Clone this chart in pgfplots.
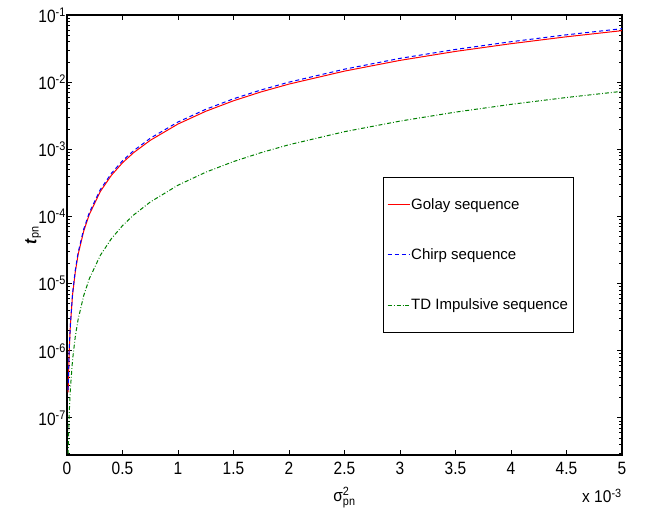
\documentclass[border=0pt]{standalone}
\usepackage{pgfplots}
\pgfplotsset{compat=1.18}
\usepackage{amsmath}
\usepackage{fontspec}
\setmainfont{Liberation Sans}

\definecolor{mred}{RGB}{255,0,0}
\definecolor{mblue}{RGB}{0,0,255}
\definecolor{mgreen}{RGB}{0,128,0}

\begin{document}
\fontsize{15}{18}\selectfont
\begin{tikzpicture}
\begin{axis}[
  name=ax,
  width=555pt, height=440pt, scale only axis,
  xmin=0, xmax=5,
  ymode=log, ymin=2.8e-8, ymax=1e-1,
  xtick={0,0.5,...,5},
  xticklabels={0,0.5,1,1.5,2,2.5,3,3.5,4,4.5,5},
  ytick={1e-7,1e-6,1e-5,1e-4,1e-3,1e-2,1e-1},
  yticklabels={10$^{\text{-7}}$,10$^{\text{-6}}$,10$^{\text{-5}}$,10$^{\text{-4}}$,10$^{\text{-3}}$,10$^{\text{-2}}$,10$^{\text{-1}}$},
  minor ytick={3e-8,4e-8,5e-8,6e-8,7e-8,8e-8,9e-8,
    2e-7,3e-7,4e-7,5e-7,6e-7,7e-7,8e-7,9e-7,
    2e-6,3e-6,4e-6,5e-6,6e-6,7e-6,8e-6,9e-6,
    2e-5,3e-5,4e-5,5e-5,6e-5,7e-5,8e-5,9e-5,
    2e-4,3e-4,4e-4,5e-4,6e-4,7e-4,8e-4,9e-4,
    2e-3,3e-3,4e-3,5e-3,6e-3,7e-3,8e-3,9e-3,
    2e-2,3e-2,4e-2,5e-2,6e-2,7e-2,8e-2,9e-2},
  tick align=inside,
  major tick length=5pt, minor tick length=3pt,
  axis line style={line width=1.2pt},
  every tick/.style={black, line width=0.8pt},
  tick label style={font=\fontsize{15.5}{18}\selectfont, yscale=1.15},
  yticklabel style={inner xsep=1pt},
  xticklabel style={yshift=-1pt},
  label style={font=\fontsize{15.5}{18}\selectfont, yscale=1.1},
  xlabel={σ$^{\text{2}}_{\text{pn}}$},
  xlabel style={at={(axis description cs:0.5,-0.06)}, anchor=north},
  ylabel={\textbf{\textit{t}}$_{\text{pn}}$},
  ylabel style={at={(axis description cs:-0.061,0.5)}, anchor=center},
  legend image code/.code={\draw[#1] (0pt,0pt) -- (22pt,0pt);},
  legend cell align=left,
  legend style={at={(axis description cs:0.5694,0.6318)}, anchor=north west,
    inner xsep=4pt, inner ysep=20pt, row sep=35pt,
    nodes={inner xsep=1pt, inner ysep=1pt},
    font=\fontsize{15}{18}\selectfont},
]
\addplot[mred, line width=1pt] coordinates {
(0.01,2.4e-7)(0.02,1.0e-6)(0.03,2.3e-6)(0.05,6.8e-6)(0.075,1.5e-5)(0.1,2.7e-5)
(0.15,6.0e-5)(0.2,1.06e-4)(0.3,2.35e-4)(0.4,4.1e-4)(0.5,6.3e-4)(0.6,8.9e-4)
(0.75,1.36e-3)(1,2.38e-3)(1.25,3.68e-3)(1.5,5.28e-3)(1.75,7.17e-3)(2,9.36e-3)
(2.5,1.46e-2)(3,2.11e-2)(3.5,2.87e-2)(4,3.74e-2)(4.5,4.74e-2)(5,5.85e-2)
};
\addlegendentry{Golay sequence}
\addplot[mblue, line width=1pt, dash pattern=on 4pt off 3pt] coordinates {
(0.01,2.6e-7)(0.02,1.05e-6)(0.03,2.4e-6)(0.05,7.1e-6)(0.075,1.6e-5)(0.1,2.89e-5)
(0.15,6.42e-5)(0.2,1.13e-4)(0.3,2.51e-4)(0.4,4.39e-4)(0.5,6.74e-4)(0.6,9.52e-4)
(0.75,1.46e-3)(1,2.55e-3)(1.25,3.94e-3)(1.5,5.65e-3)(1.75,7.67e-3)(2,1.0e-2)
(2.5,1.56e-2)(3,2.26e-2)(3.5,3.07e-2)(4,4.0e-2)(4.5,5.07e-2)(5,6.26e-2)
};
\addlegendentry{Chirp sequence}
\addplot[mgreen, line width=1pt, dash pattern=on 4pt off 2pt on 0.8pt off 2pt] coordinates {
(0.01,2.9e-8)(0.02,1.17e-7)(0.03,2.63e-7)(0.05,7.3e-7)(0.075,1.64e-6)(0.1,2.92e-6)
(0.15,6.57e-6)(0.2,1.17e-5)(0.3,2.63e-5)(0.4,4.67e-5)(0.5,7.3e-5)(0.6,1.05e-4)
(0.75,1.64e-4)(1,2.92e-4)(1.25,4.56e-4)(1.5,6.57e-4)(1.75,8.94e-4)(2,1.17e-3)
(2.5,1.83e-3)(3,2.63e-3)(3.5,3.58e-3)(4,4.67e-3)(4.5,5.91e-3)(5,7.3e-3)
};
\addlegendentry{TD Impulsive sequence}
\end{axis}
\node[anchor=west, inner sep=0pt, font=\fontsize{15.5}{18}\selectfont, yscale=1.1] at ([xshift=515pt,yshift=-41pt]ax.south west) {x 10$^{\text{-3}}$};
\path (ax.south west) ++(-67pt,-62pt) rectangle ++(654pt,517pt);
\end{tikzpicture}
\end{document}
